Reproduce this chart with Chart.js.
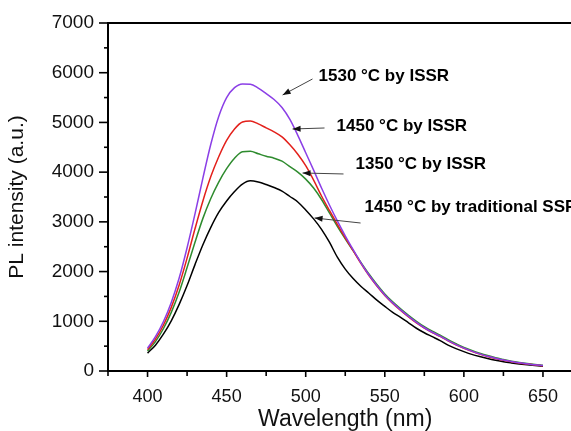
<!DOCTYPE html>
<html>
<head>
<meta charset="utf-8">
<script src="https://cdn.jsdelivr.net/npm/chart.js@4/dist/chart.umd.min.js"></script>
<style>
  html, body { margin: 0; padding: 0; background: #fff; overflow: hidden; }
  #wrap { width: 571px; height: 431px; overflow: hidden; position: relative; }
  #box { width: 600px; height: 431px; position: absolute; left: 0; top: 0; }
</style>
</head>
<body>
<div id="wrap"><div id="box"><canvas id="c"></canvas></div></div>
<script>
// ---- data ----
const wavelengths = [400,405,410,415,420,425,430,435,440,445,450,455,460,465,470,475,480,485,490,495,500,505,510,515,520,525,530,535,540,545,550,555,560,565,570,575,580,585,590,595,600,605,610,615,620,625,630,635,640,645,650];
const issr1530 = [460,690,990,1380,1870,2480,3160,3880,4560,5120,5500,5700,5775,5770,5690,5580,5460,5300,5060,4740,4390,4040,3680,3340,3020,2720,2440,2170,1930,1720,1530,1370,1230,1100,980,870,780,700,610,530,460,400,345,295,255,220,190,165,145,125,110];
const issr1450 = [430,640,920,1280,1730,2270,2860,3420,3910,4310,4640,4870,5010,5030,4970,4890,4810,4710,4550,4360,4130,3840,3520,3230,2950,2680,2420,2160,1920,1710,1520,1360,1220,1090,970,865,775,695,605,525,455,395,340,290,250,215,185,160,140,122,108];
const issr1350 = [400,590,850,1180,1590,2080,2590,3070,3470,3800,4070,4280,4410,4420,4370,4320,4280,4220,4110,4000,3860,3680,3450,3180,2910,2660,2420,2180,1950,1740,1550,1390,1250,1120,1000,890,800,720,630,550,475,415,360,310,265,230,198,172,150,132,118];
const ssr1450 = [360,520,740,1010,1340,1720,2140,2540,2890,3190,3420,3610,3760,3825,3800,3750,3690,3620,3510,3400,3240,3060,2850,2590,2290,2050,1860,1700,1565,1425,1300,1180,1080,970,860,770,690,610,520,450,390,335,290,250,215,185,162,142,125,110,98];
const seriesLabels = ['1530 °C by ISSR','1450 °C by ISSR','1350 °C by ISSR','1450 °C by traditional SSR'];
const xTickLabels = [400,450,500,550,600,650];
const yTickLabels = [0,1000,2000,3000,4000,5000,6000,7000];
// annotation anchors in data units: text start, arrow tail, arrow head
const annoText = [[508.1,5834],[519.5,4828],[531.5,4064],[537.2,3199]];
const annoTail = [[504.3,5874],[511.9,4888],[523.9,3963],[534.7,2977]];
const annoHead = [[485.4,5552],[491.7,4868],[498.0,3983],[505.6,3078]];

const colors = ['#8B3FE6','#E3201B','#2E8B2E','#000000'];
const FONT = '"Liberation Sans", Arial, sans-serif';

function pts(ys){ return wavelengths.map((x,i)=>({x:x,y:ys[i]})); }

const decor = {
  id: 'decor',
  afterDraw(chart){
    const ctx = chart.ctx, a = chart.chartArea;
    const xs = chart.scales.x, ys = chart.scales.y;
    ctx.save();
    ctx.strokeStyle = '#000';
    ctx.lineWidth = 2;
    // top border
    ctx.beginPath(); ctx.moveTo(a.left-1, a.top); ctx.lineTo(a.right+5, a.top); ctx.stroke();
    // ticks
    ctx.lineWidth = 1.6;
    xs.ticks.forEach(t=>{
      const px = xs.getPixelForValue(t.value);
      const len = (t.value % 50 === 0) ? 6 : 5;
      ctx.beginPath(); ctx.moveTo(px, a.bottom); ctx.lineTo(px, a.bottom+len); ctx.stroke();
    });
    ys.ticks.forEach(t=>{
      const py = ys.getPixelForValue(t.value);
      const len = (t.value % 1000 === 0) ? 9 : 4;
      ctx.beginPath(); ctx.moveTo(a.left, py); ctx.lineTo(a.left-len, py); ctx.stroke();
    });
    // annotations
    ctx.font = 'bold 17px ' + FONT;
    ctx.fillStyle = '#000';
    ctx.textBaseline = 'alphabetic';
    ctx.textAlign = 'left';
    seriesLabels.forEach((lab,i)=>{
      const tx = xs.getPixelForValue(annoText[i][0]), ty = ys.getPixelForValue(annoText[i][1]);
      ctx.fillText(lab, tx, ty);
      const x0 = xs.getPixelForValue(annoTail[i][0]), y0 = ys.getPixelForValue(annoTail[i][1]);
      const x1 = xs.getPixelForValue(annoHead[i][0]), y1 = ys.getPixelForValue(annoHead[i][1]);
      ctx.strokeStyle = '#444'; ctx.lineWidth = 1;
      ctx.beginPath(); ctx.moveTo(x0,y0); ctx.lineTo(x1,y1); ctx.stroke();
      const ang = Math.atan2(y1-y0, x1-x0), L = 8, W = 3;
      const bx = x1 - L*Math.cos(ang), by = y1 - L*Math.sin(ang);
      ctx.fillStyle = '#111';
      ctx.beginPath();
      ctx.moveTo(x1,y1);
      ctx.lineTo(bx + W*Math.sin(ang), by - W*Math.cos(ang));
      ctx.lineTo(bx - W*Math.sin(ang), by + W*Math.cos(ang));
      ctx.closePath(); ctx.fill();
      ctx.fillStyle = '#000';
    });
    ctx.restore();
  }
};

new Chart(document.getElementById('c'), {
  type: 'line',
  data: {
    datasets: [issr1530, issr1450, issr1350, ssr1450].map((d,i)=>({
      label: seriesLabels[i],
      data: pts(d),
      borderColor: colors[i],
      borderWidth: 1.5,
      pointRadius: 0,
      fill: false,
      cubicInterpolationMode: 'monotone'
    }))
  },
  options: {
    responsive: true,
    maintainAspectRatio: false,
    animation: false,
    events: [],
    layout: { padding: { top: 23, right: 17.5, left: 0, bottom: 0 } },
    plugins: { legend: { display: false }, tooltip: { enabled: false } },
    scales: {
      x: {
        type: 'linear', min: 375, max: 675,
        afterFit(s){ s.height = 60; },
        border: { display: true, color: '#000', width: 2 },
        grid: { display: true, drawOnChartArea: false, drawTicks: true, tickLength: 6, color: 'rgba(0,0,0,0)' },
        ticks: {
          stepSize: 25, autoSkip: false, maxRotation: 0, padding: 9,
          color: '#111', font: { family: FONT, size: 18 },
          callback: v => xTickLabels.includes(v) ? String(v) : ''
        },
        title: { display: true, text: 'Wavelength (nm)', color: '#111', font: { family: FONT, size: 23, lineHeight: 1 }, padding: { top: 0, bottom: 0 } }
      },
      y: {
        type: 'linear', min: 0, max: 7000,
        afterFit(s){ s.width = 108; },
        border: { display: true, color: '#000', width: 2 },
        grid: { display: true, drawOnChartArea: false, drawTicks: true, tickLength: 9, color: 'rgba(0,0,0,0)' },
        ticks: {
          stepSize: 500, autoSkip: false, padding: 5,
          color: '#111', font: { family: FONT, size: 19 },
          callback: v => yTickLabels.includes(v) ? String(v) : ''
        },
        title: { display: true, text: 'PL intensity (a.u.)', color: '#111', font: { family: FONT, size: 21, lineHeight: 1 }, padding: { top: 7, bottom: 0 } }
      }
    }
  },
  plugins: [decor]
});
</script>
</body>
</html>
